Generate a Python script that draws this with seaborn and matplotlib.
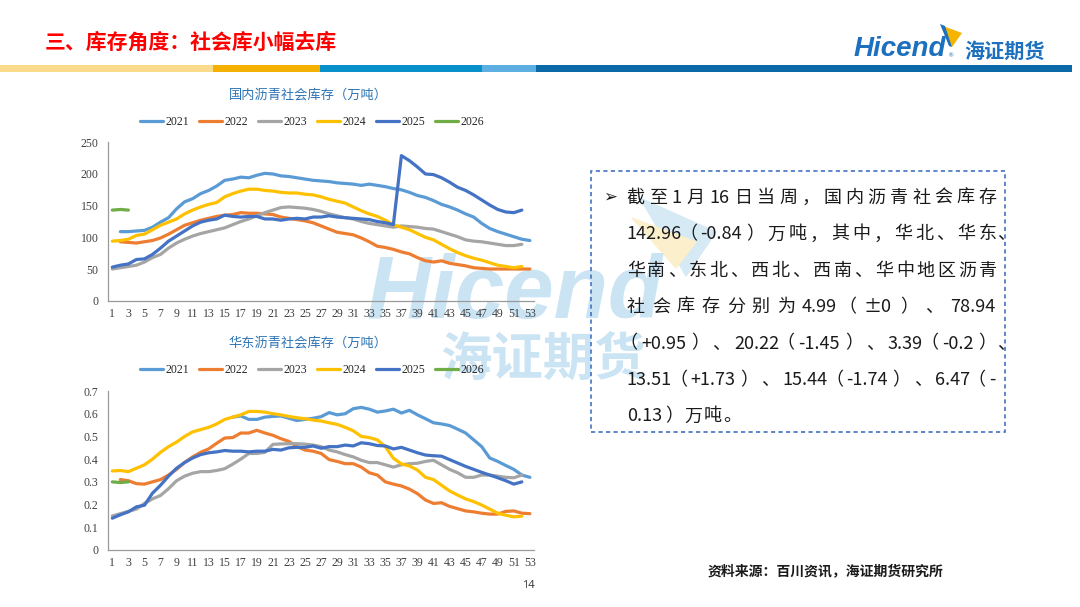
import pandas as pd
import seaborn as sns
import matplotlib.pyplot as plt
from matplotlib.patches import Rectangle, Polygon
from matplotlib.ticker import FuncFormatter

W, H = 1080, 607

years = ["2021", "2022", "2023", "2024", "2025", "2026"]
palette = ["#5B9BD5", "#ED7D31", "#A5A5A5", "#FFC000", "#4472C4", "#70AD47"]
week_ticks = list(range(1, 54, 2))

# 国内沥青社会库存 (万吨), index 0 = week 1
nat_2021 = [None, 109, 109, 110, 111, 116, 124, 131, 145, 156, 161, 169, 174, 181, 190, 192, 195, 194,
            198, 201, 200, 197, 196, 194, 192, 190, 189, 188, 186, 185, 184, 182, 184, 182, 180, 177,
            175, 171, 166, 163, 158, 152, 148, 143, 137, 132, 122, 114, 109, 105, 101, 97, 95]
nat_2022 = [None, 93, 92, 91, 93, 95, 99, 105, 112, 119, 123, 127, 130, 133, 135, 136, 139, 138,
            138, 137, 136, 132, 130, 128, 126, 123, 118, 113, 108, 106, 104, 99, 93, 86, 84, 81,
            77, 74, 68, 63, 61, 63, 59, 57, 55, 52, 51, 50, 50, 50, 50, 50, 50]
nat_2023 = [50, 52, 54, 56, 61, 68, 73, 83, 91, 97, 102, 106, 109, 112, 115, 120, 125, 129,
            134, 139, 143, 147, 148, 147, 146, 144, 141, 137, 134, 131, 129, 125, 122, 120, 118, 116,
            118, 117, 116, 114, 113, 109, 105, 101, 96, 94, 93, 91, 89, 87, 87, 89, None]
nat_2024 = [94, 95, 97, 103, 105, 112, 119, 124, 129, 137, 143, 148, 152, 155, 164, 169, 173, 176,
            176, 174, 173, 171, 170, 170, 168, 167, 164, 160, 157, 154, 148, 142, 137, 133, 127, 120,
            116, 112, 106, 100, 96, 89, 82, 76, 71, 67, 64, 60, 56, 54, 52, 54, None]
nat_2025 = [53, 56, 58, 65, 66, 73, 83, 94, 102, 110, 118, 124, 127, 129, 135, 133, 132, 133,
            133, 129, 129, 127, 129, 130, 129, 132, 132, 134, 132, 131, 130, 129, 128, 125, 123, 120,
            229, 221, 211, 200, 199, 194, 187, 179, 174, 167, 159, 151, 144, 140, 139, 143, None]
nat_2026 = [143, 144, 143] + [None] * 50

# 华东沥青社会库存 (万吨)
ec_2021 = [None] * 15 + [0.585, 0.59, 0.575, 0.575, 0.585, 0.588, 0.59, 0.58, 0.57, 0.575, 0.58,
                         0.587, 0.605, 0.595, 0.60, 0.622, 0.628, 0.62, 0.607, 0.612, 0.62, 0.603,
                         0.615, 0.595, 0.578, 0.56, 0.555, 0.548, 0.532, 0.515, 0.485, 0.455, 0.405,
                         0.39, 0.372, 0.355, 0.33, 0.32]
ec_2022 = [None, 0.31, 0.305, 0.292, 0.29, 0.30, 0.31, 0.33, 0.355, 0.385, 0.41, 0.43, 0.445, 0.47,
           0.493, 0.495, 0.515, 0.515, 0.527, 0.515, 0.505, 0.49, 0.478, 0.455, 0.44, 0.435, 0.425,
           0.398, 0.39, 0.38, 0.38, 0.365, 0.34, 0.33, 0.30, 0.29, 0.282, 0.268, 0.248, 0.22, 0.205,
           0.208, 0.192, 0.182, 0.172, 0.168, 0.162, 0.158, 0.158, 0.17, 0.172, 0.162, 0.16]
ec_2023 = [0.15, 0.16, 0.17, 0.18, 0.205, 0.225, 0.24, 0.27, 0.305, 0.325, 0.338, 0.345, 0.345, 0.35,
           0.358, 0.378, 0.40, 0.425, 0.425, 0.43, 0.465, 0.467, 0.468, 0.468, 0.466, 0.462, 0.455,
           0.44, 0.432, 0.42, 0.41, 0.395, 0.385, 0.385, 0.375, 0.365, 0.375, 0.38, 0.382, 0.39, 0.395,
           0.375, 0.355, 0.34, 0.32, 0.32, 0.33, 0.33, 0.325, 0.32, 0.318, 0.33, None]
ec_2024 = [0.348, 0.35, 0.345, 0.36, 0.375, 0.40, 0.43, 0.455, 0.475, 0.50, 0.52, 0.53, 0.54, 0.555,
           0.575, 0.585, 0.595, 0.61, 0.61, 0.607, 0.60, 0.595, 0.588, 0.582, 0.578, 0.572, 0.568,
           0.56, 0.553, 0.54, 0.525, 0.50, 0.495, 0.485, 0.455, 0.404, 0.379, 0.37, 0.352, 0.32, 0.31,
           0.285, 0.26, 0.242, 0.225, 0.213, 0.198, 0.18, 0.162, 0.153, 0.146, 0.149, None]
ec_2025 = [0.14, 0.155, 0.168, 0.19, 0.197, 0.25, 0.285, 0.325, 0.36, 0.385, 0.405, 0.42, 0.428, 0.432,
           0.438, 0.435, 0.435, 0.432, 0.435, 0.435, 0.443, 0.44, 0.45, 0.452, 0.452, 0.458, 0.448,
           0.455, 0.455, 0.462, 0.458, 0.472, 0.468, 0.46, 0.458, 0.445, 0.452, 0.44, 0.428, 0.418,
           0.415, 0.413, 0.398, 0.383, 0.368, 0.355, 0.342, 0.33, 0.318, 0.305, 0.29, 0.30, None]
ec_2026 = [0.30, 0.297, 0.30] + [None] * 50

title_text = "三、库存角度：社会库小幅去库"
note_lines = [
    "截至1月16日当周，国内沥青社会库存",
    "142.96（-0.84）万吨，其中，华北、华东、",
    "华南、东北、西北、西南、华中地区沥青",
    "社会库存分别为4.99（±0）、78.94",
    "（+0.95）、20.22（-1.45）、3.39（-0.2）、",
    "13.51（+1.73）、15.44（-1.74）、6.47（-",
    "0.13）万吨。",
]
source_text = "资料来源：百川资讯，海证期货研究所"


def to_long(series):
    rows = []
    for year, vals in zip(years, series):
        for wk, v in enumerate(vals, start=1):
            if v is not None:
                rows.append({"week": wk, "value": v, "year": year})
    return pd.DataFrame(rows)


sns.set_style("white")
CJK = ["Noto Sans CJK SC", "DejaVu Sans"]
plt.rcParams["font.family"] = ["Liberation Serif", "Noto Sans CJK SC", "DejaVu Sans"]

fig = plt.figure(figsize=(W / 100, H / 100), dpi=100)
fig.patch.set_facecolor("white")


def fx(x):
    return x / W


def fy(y):
    return 1 - y / H


def box(x0, y0, x1, y1):
    return [fx(x0), fy(y1), (x1 - x0) / W, (y1 - y0) / H]


# watermark behind everything
wm = "#CBE4F4"
fig.add_artist(Polygon([(fx(640), fy(198)), (fx(716), fy(232)), (fx(686), fy(276))],
                       closed=True, transform=fig.transFigure, color="#D6EAF6", zorder=-2))
fig.add_artist(Polygon([(fx(632), fy(218)), (fx(696), fy(242)), (fx(676), fy(268))],
                       closed=True, transform=fig.transFigure, color="#FCEFCB", zorder=-2))
fig.text(fx(366), fy(318), "Hicend", fontsize=64, fontstyle="italic", fontweight="bold",
         family="Liberation Sans", color=wm, ha="left", va="baseline", zorder=-1)
fig.text(fx(440), fy(376), "海证期货", fontsize=37, fontweight="bold", family=CJK,
         color=wm, ha="left", va="baseline", zorder=-1)

# header
fig.text(fx(45), fy(42), title_text, fontsize=15, fontweight="bold", color="#FF0000",
         family=CJK, ha="left", va="center")
bar = [(0, 213, "#FADB8B"), (213, 320, "#F5B100"), (320, 482, "#0890CB"),
       (482, 536, "#5DAEE1"), (536, 1072, "#0B69A7")]
for x0, x1, c in bar:
    fig.add_artist(Rectangle((fx(x0), fy(72)), (x1 - x0) / W, 7 / H,
                             transform=fig.transFigure, color=c, lw=0))
logo_blue = "#1C70BE"
fig.text(fx(854), fy(56), "Hicend", fontsize=20, fontstyle="italic", fontweight="bold",
         family="Liberation Sans", color=logo_blue, ha="left", va="baseline")
fig.text(fx(947), fy(57), "®", fontsize=4.5, family="DejaVu Sans", color=logo_blue,
         ha="left", va="baseline")
fig.text(fx(964), fy(58), "海证期货", fontsize=14.5, fontweight="bold", family=CJK,
         color=logo_blue, ha="left", va="baseline")
fig.add_artist(Polygon([(fx(943), fy(26)), (fx(962), fy(33)), (fx(952), fy(47))],
                       closed=True, transform=fig.transFigure, color="#F5B400", lw=0))
fig.add_artist(Polygon([(fx(940), fy(24)), (fx(945), fy(26)), (fx(952), fy(47)), (fx(949), fy(46))],
                       closed=True, transform=fig.transFigure, color="#1C70BE", lw=0))


def draw_panel(ax, series, ylim, yticks, title, title_y):
    df = to_long(series)
    ax.set_facecolor("none")
    sns.lineplot(data=df, x="week", y="value", hue="year", hue_order=years,
                 palette=palette, linewidth=2.3, errorbar=None, ax=ax)
    ax.set_xlim(0.5, 53.5)
    ax.set_ylim(*ylim)
    ax.set_yticks(yticks)
    ax.yaxis.set_major_formatter(FuncFormatter(lambda v, p: f"{v:g}"))
    ax.set_xticks(week_ticks)
    ax.set_xticks(range(1, 54), minor=True)
    ax.set_xlabel("")
    ax.set_ylabel("")
    for side in ["top", "right"]:
        ax.spines[side].set_visible(False)
    for side in ["left", "bottom"]:
        ax.spines[side].set_color("#9A9A9A")
        ax.spines[side].set_linewidth(0.9)
    ax.tick_params(which="both", direction="out", length=3, width=0.8, color="#9A9A9A",
                   labelcolor="#404040", labelsize=8.5)
    ax.tick_params(axis="y", pad=4)
    ax.tick_params(axis="x", pad=2)
    handles, labels = ax.get_legend_handles_labels()
    ax.legend(handles, labels, loc="center", bbox_to_anchor=(0.479, 1.13), ncol=6,
              frameon=False, handlelength=1.95, handletextpad=0.2, columnspacing=0.85,
              prop={"family": "Liberation Serif", "size": 8.5})
    fig.text(fx(308), fy(title_y), title, fontsize=9.5, color="#2E75B6", family=CJK,
             ha="center", va="center")


ax1 = fig.add_axes(box(108.3, 142.3, 533.9, 300.7))
draw_panel(ax1, [nat_2021, nat_2022, nat_2023, nat_2024, nat_2025, nat_2026],
           (0, 250), range(0, 251, 50), "国内沥青社会库存（万吨）", 95)

ax2 = fig.add_axes(box(108.3, 391, 533.9, 550))
draw_panel(ax2, [ec_2021, ec_2022, ec_2023, ec_2024, ec_2025, ec_2026],
           (0, 0.7), [i / 10 for i in range(8)], "华东沥青社会库存（万吨）", 343)

# note box
fig.add_artist(Rectangle((fx(591), fy(432)), (1005 - 591) / W, (432 - 171) / H,
                         transform=fig.transFigure, fill=False, edgecolor="#4472C4",
                         lw=1.2, linestyle=(0, (2.5, 2))))

renderer = fig.canvas.get_renderer()
note_size = 13
em = note_size * 100 / 72


def is_wide(ch):
    return ord(ch) >= 0x2E80


def tokens(s):
    out, buf = [], ""
    for ch in s:
        if is_wide(ch):
            if buf:
                out.append(buf)
                buf = ""
            out.append(ch)
        else:
            buf += ch
    if buf:
        out.append(buf)
    return out


def advance(tok):
    if tok == "（":
        return 0.6 * em
    if is_wide(tok[0]):
        return em
    t = fig.text(0, 0, tok, fontsize=note_size, family=CJK)
    w = t.get_window_extent(renderer).width
    t.remove()
    return w + 1.5


x_left, x_right = 626.7, 996.7
fig.text(fx(603), fy(196.5), "➢", fontsize=12, family="DejaVu Sans", color="#1A1A1A",
         ha="left", va="center")
for i, line in enumerate(note_lines):
    toks = tokens(line)
    hang = None
    if toks[-1] == "、":
        hang = toks.pop()
    advs = [advance(t) for t in toks]
    if i == len(note_lines) - 1:
        gap = 1.5
    else:
        gap = (x_right - x_left - sum(advs)) / (len(toks) - 1)
    base = 196.5 + i * 36.4 + 6.5
    x = x_left
    for t, a in zip(toks, advs):
        shift = -0.4 * em if t == "（" else 0
        fig.text(fx(x + shift), fy(base), t, fontsize=note_size, family=CJK, color="#1A1A1A",
                 ha="left", va="baseline")
        x += a + gap
    if hang:
        fig.text(fx(x - gap), fy(base), hang, fontsize=note_size, family=CJK,
                 color="#1A1A1A", ha="left", va="baseline")

# footer
fig.text(fx(708), fy(571), source_text, fontsize=10, fontweight="bold", family=CJK,
         color="#1A1A1A", ha="left", va="center")
fig.text(fx(528), fy(585), "14", fontsize=8, family=["Noto Sans", "DejaVu Sans"],
         color="#404040", ha="center", va="center")

fig.savefig("out.png", dpi=100, facecolor="white")
